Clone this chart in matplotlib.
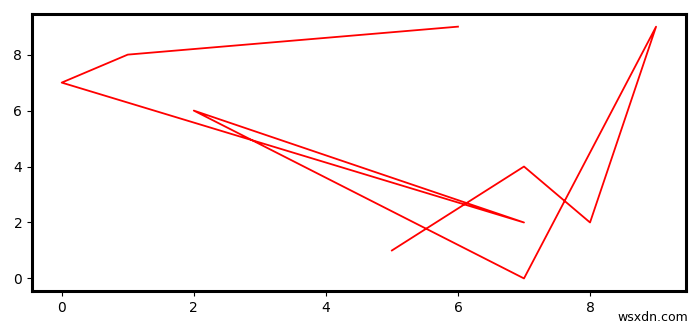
import numpy as np
import matplotlib
matplotlib.use('Agg')
import matplotlib.pyplot as plt

x = [6, 1, 0, 7, 2, 7, 9, 8, 7, 5]
y = [9, 8, 7, 2, 6, 0, 9, 2, 4, 1]

fig = plt.figure(figsize=(7.0, 3.27), dpi=100)
ax = fig.add_axes([0.0457, 0.11, 0.934, 0.847])
ax.plot(x, y, color='red', linewidth=1.3)

for s in ax.spines.values():
    s.set_linewidth(2.2)

fig.text(0.983, 0.01, 'wsxdn.com', ha='right', va='bottom', fontsize=9)

plt.savefig('out.png', dpi=100)
